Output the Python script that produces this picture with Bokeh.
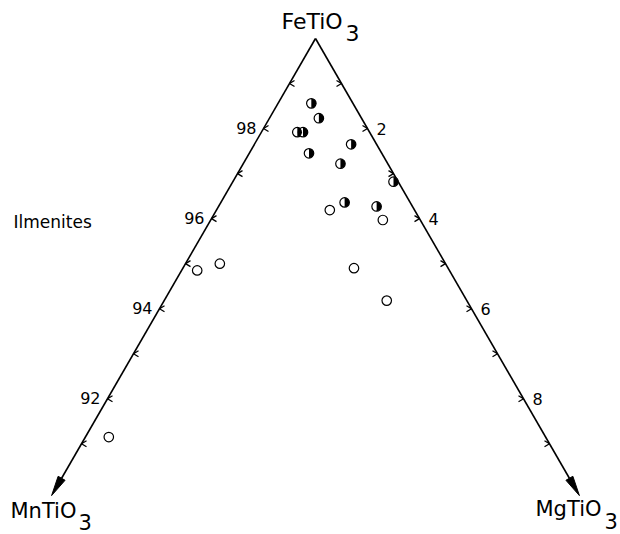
import numpy as np
from bokeh.plotting import figure
from bokeh.models import Range1d
from bokeh.core.properties import value
from bokeh.embed import file_html
from bokeh.resources import INLINE

# ---- data (mol %) ----
# half-filled symbols
mn_half = [0.80, 0.82, 1.39, 1.28, 1.40, 0.49, 0.91, 0.09, 1.26, 0.69]
mg_half = [0.64, 0.95, 0.69, 0.80, 1.15, 1.86, 1.87, 3.09, 2.38, 3.04]
# open symbols
mn_open = [1.63, 0.72, 1.81, 1.54, 4.85, 4.34, 8.40]
mg_open = [2.18, 3.31, 3.29, 4.28, 0.30, 0.66, 0.45]

fe_ticks = [99, 98, 97, 96, 95, 94, 93, 92, 91]          # left edge (FeTiO3 %)
fe_labels = ["98", "96", "94", "92"]
mg_ticks = [1, 2, 3, 4, 5, 6, 7, 8, 9]                   # right edge (MgTiO3 %)
mg_labels = ["2", "4", "6", "8"]
edge_end = 10.15                                         # extent of the arrows (%)

# ---- layout ----
W, H = 620, 534
PX = 52.0                 # pixels per 1 % along an edge
AX, AY = 315, 38          # apex pixel position
FONT = "DejaVu Sans"
S3 = np.sqrt(3) / 2


def tern(mn, mg):
    mn = np.asarray(mn, float)
    mg = np.asarray(mg, float)
    return (mg - mn) / 2.0, -(mn + mg) * S3


def P(px, py):
    return (px - AX) / PX, (AY - py) / PX


p = figure(width=W, height=H, output_backend="svg", toolbar_location=None,
           x_range=Range1d(-AX / PX, (W - AX) / PX),
           y_range=Range1d(-(H - AY) / PX, AY / PX),
           x_axis_location=None, y_axis_location=None,
           min_border=0, background_fill_color="white", border_fill_color="white")
p.grid.visible = False
p.outline_line_color = None

# ---- edges with arrowheads ----
L, HW = 20 / PX, 4 / PX
for d in [(1, 0), (0, 1)]:
    ux, uy = tern(*d)
    tx, ty = ux * edge_end, uy * edge_end
    bx, by = tx - L * ux, ty - L * uy
    nx, ny = -uy, ux
    p.line([0, bx], [0, by], line_color="black", line_width=1.6)
    p.patch([tx, bx + HW * nx, bx - HW * nx], [ty, by + HW * ny, by - HW * ny],
            fill_color="black", line_color="black", line_width=1)

# ---- ticks (small chevrons) ----
lk = 100 - np.array(fe_ticks)
lx, ly = tern(lk, 0 * lk)
d1, d2 = 5 / PX, 3 / PX
p.segment(x0=np.r_[lx, lx], y0=np.r_[ly, ly], x1=np.r_[lx + d1, lx + d1],
          y1=np.r_[ly + d2, ly - d2], line_color="black", line_width=1.3)
rk = np.array(mg_ticks)
rx, ry = tern(0 * rk, rk)
p.segment(x0=np.r_[rx, rx], y0=np.r_[ry, ry], x1=np.r_[rx - d1, rx - d1],
          y1=np.r_[ry + d2, ry - d2], line_color="black", line_width=1.3)

# ---- tick labels ----
flk = 100 - np.array([float(s) for s in fe_labels])
flx, fly = tern(flk, 0 * flk)
p.text(x=flx, y=fly, text=fe_labels, text_font=value(FONT), text_font_size="16px",
       text_align="right", text_baseline="middle", x_offset=-7, y_offset=-1,
       text_color="black")
mlk = np.array([float(s) for s in mg_labels])
mlx, mly = tern(0 * mlk, mlk)
p.text(x=mlx, y=mly, text=mg_labels, text_font=value(FONT), text_font_size="16px",
       text_align="left", text_baseline="middle", x_offset=9, y_offset=0,
       text_color="black")

# ---- points ----
ox, oy = tern(mn_open, mg_open)
p.scatter(ox, oy, marker="circle", size=9.5, fill_color="white",
          line_color="black", line_width=1.2)
hx, hy = tern(mn_half, mg_half)
p.scatter(hx, hy, marker="circle", size=9.5, fill_color="white",
          line_color="black", line_width=1.2)
p.wedge(x=hx, y=hy, radius=4.7, radius_units="screen", start_angle=-np.pi / 2,
        end_angle=np.pi / 2, fill_color="black", line_color=None)


# ---- corner labels (positioned by vertical centre) ----
def txt(px, py, s, size="21px"):
    x, y = P(px, py)
    p.text(x=[x], y=[y], text=[s], text_font=value(FONT), text_font_size=size,
           text_align="left", text_baseline="middle", text_color="black")


txt(281, 21, "FeTiO", "22px")
txt(345, 32, "3", "22px")
txt(10, 510, "MnTiO")
txt(78, 521, "3")
txt(535, 508, "MgTiO")
txt(604, 520, "3")
txt(13, 221, "Ilmenites", "17px")

open("out.html", "w").write(file_html(p, INLINE))
